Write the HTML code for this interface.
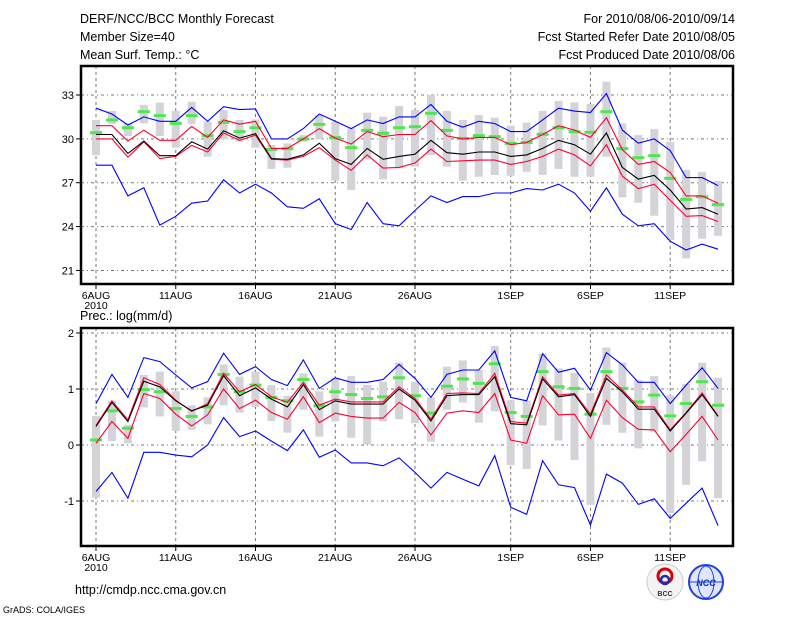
<!DOCTYPE html>
<html><head><meta charset="utf-8"><style>
html,body{margin:0;padding:0;background:#fff;}
svg{display:block;font-family:"Liberation Sans",sans-serif;}
</style></head><body>
<svg id="chart" width="800" height="618" viewBox="0 0 800 618" xmlns="http://www.w3.org/2000/svg">
<g font-size="12.5" fill="#000">
<text x="80" y="23">DERF/NCC/BCC Monthly Forecast</text>
<text x="80" y="41">Member Size=40</text>
<text x="80" y="59">Mean Surf. Temp.: °C</text>
<text x="735" y="23" text-anchor="end">For 2010/08/06-2010/09/14</text>
<text x="735" y="41" text-anchor="end">Fcst Started Refer Date 2010/08/05</text>
<text x="735" y="59" text-anchor="end">Fcst Produced Date 2010/08/06</text>
</g>
<text x="80" y="320" font-size="12.5">Prec.: log(mm/d)</text>
<text x="75" y="594" font-size="12.5">http://cmdp.ncc.cma.gov.cn</text>
<text x="3" y="613" font-size="9">GrADS: COLA/IGES</text>
<g>
<circle cx="665" cy="582" r="18" fill="#f4f4f4" stroke="#ccc"/>
<circle cx="665" cy="576" r="7" fill="none" stroke="#d00" stroke-width="3"/>
<circle cx="665" cy="580" r="4" fill="none" stroke="#1030c0" stroke-width="2.5"/>
<text x="665" y="596" font-size="7" text-anchor="middle" font-weight="bold" fill="#333">BCC</text>
</g>
<g>
<circle cx="706" cy="582" r="17" fill="#dfe6ff" stroke="#2040e0" stroke-width="2"/>
<ellipse cx="706" cy="582" rx="8" ry="16" fill="none" stroke="#2040e0"/>
<line x1="690" y1="582" x2="722" y2="582" stroke="#2040e0"/>
<text x="706" y="586" font-size="9" text-anchor="middle" font-weight="bold" font-style="italic" fill="#1030c0">NCC</text>
</g>
<g id="plots"></g>
</svg>
<script>
// categories: 40 days from 6 Aug 2010
const dayLabels = ["6AUG","11AUG","16AUG","21AUG","26AUG","1SEP","6SEP","11SEP"];
const dayLabelIdx = [0,5,10,15,20,26,31,36];
const tempTicks = [21,24,27,30,33];
const precTicks = [-1,0,1,2];

const tBlueUp = [32.1,31.7,30.95,31.5,31.2,31.2,32.15,31.2,32.2,32.0,32.05,30.0,30.0,30.7,31.7,31.2,30.7,31.3,31.05,31.5,31.5,32.35,31.2,30.8,31.2,31.05,30.5,30.5,31.3,32.1,31.9,31.8,33.1,30.6,29.7,30.0,29.2,27.35,27.35,26.8];
const tBlueLo = [28.2,28.2,26.1,26.65,24.1,24.7,25.6,25.75,27.2,26.3,26.9,26.3,25.35,25.25,25.9,24.2,23.8,25.65,24.2,24.05,25.1,26.1,25.65,26.05,26.05,26.3,26.3,26.6,26.5,26.9,26.3,25.05,26.65,24.85,24.05,24.2,23.0,22.4,22.8,22.45];
const tRedUp = [30.9,30.9,29.85,30.6,29.9,29.9,30.85,30.1,31.3,31.0,31.2,29.35,29.35,30.0,30.7,30.05,29.65,30.5,30.15,30.3,30.3,31.25,30.2,30.0,30.1,30.1,29.6,29.75,30.3,30.9,30.6,30.1,31.45,29.25,28.25,28.45,27.7,26.1,26.1,25.6];
const tMean = [30.3,30.3,29.0,29.85,28.85,28.85,29.8,29.3,30.55,30.05,30.35,28.65,28.6,28.9,29.7,28.65,28.25,29.35,28.6,28.8,28.95,29.9,29.05,28.95,29.1,29.1,28.8,28.9,29.35,29.9,29.6,28.95,30.4,28.05,27.25,27.5,26.5,25.2,25.3,24.85];
const tRedLo = [30.0,30.0,28.75,29.8,28.65,28.8,29.55,29.1,30.4,29.9,30.25,28.6,28.55,28.8,29.4,28.55,27.85,28.9,28.0,28.05,28.35,29.3,28.45,28.5,28.55,28.55,28.25,28.45,28.8,29.3,28.9,28.15,29.6,27.45,26.6,26.9,25.8,24.7,24.75,24.35];
const tMax = [31.29,31.91,31.06,32.32,32.48,31.91,32.54,31.18,31.97,31.29,31.33,29.58,29.69,30.26,31.63,31.18,30.72,31.79,31.52,32.25,31.97,33.0,31.91,31.29,31.63,31.45,30.9,31.11,31.91,32.59,32.5,32.38,33.91,31.06,30.26,30.67,29.81,27.87,27.74,27.12];
const tMin = [28.89,31.02,30.19,31.06,30.19,29.4,31.02,28.78,29.97,29.81,29.4,27.94,28.03,29.81,29.97,27.14,26.5,28.6,27.23,27.98,28.1,28.89,28.1,27.14,27.41,27.53,27.48,27.75,27.53,27.94,27.41,27.41,28.78,26.0,25.63,24.74,23.08,21.82,23.17,23.37];
const tMed = [30.42,31.29,30.76,31.86,31.59,31.06,31.59,30.22,31.13,30.49,30.76,29.28,29.33,29.99,30.99,30.08,29.4,30.58,30.38,30.76,30.83,31.75,30.58,30.03,30.22,30.15,29.69,29.76,30.31,30.76,30.49,30.45,31.86,29.33,28.71,28.85,27.3,25.86,26.04,25.5];

const pBlueUp = [0.74,1.26,0.85,1.56,1.49,1.25,1.02,1.13,1.64,1.26,1.40,1.17,1.06,1.52,1.01,1.20,1.12,1.12,1.17,1.44,1.19,0.85,1.26,1.34,1.34,1.68,0.85,0.79,1.63,1.30,1.37,0.98,1.65,1.43,1.12,1.12,0.74,1.07,1.38,1.01];
const pBlueLo = [-0.83,-0.49,-0.95,-0.13,-0.13,-0.18,-0.21,0.0,0.49,0.15,0.25,0.07,-0.10,0.27,-0.22,-0.09,-0.32,-0.32,-0.37,-0.23,-0.49,-0.77,-0.49,-0.61,-0.73,-0.19,-1.11,-1.24,-0.28,-0.71,-0.76,-1.43,-0.52,-0.68,-1.06,-0.96,-1.31,-1.04,-0.77,-1.44];
const pRedUp = [0.35,0.79,0.45,1.20,1.08,0.80,0.60,0.74,1.28,0.95,1.08,0.86,0.76,1.12,0.71,0.82,0.77,0.77,0.77,1.04,0.83,0.46,0.92,0.93,0.92,1.28,0.42,0.39,1.22,0.89,0.92,0.55,1.25,0.98,0.68,0.68,0.27,0.58,0.93,0.52];
const pMean = [0.33,0.76,0.42,1.14,1.04,0.79,0.61,0.71,1.24,0.88,1.02,0.82,0.68,1.08,0.63,0.79,0.73,0.73,0.73,1.0,0.80,0.43,0.88,0.90,0.90,1.22,0.38,0.36,1.18,0.86,0.90,0.51,1.19,0.95,0.64,0.64,0.25,0.57,0.90,0.51];
const pRedLo = [0.03,0.42,0.12,0.92,0.83,0.55,0.34,0.54,1.0,0.65,0.80,0.58,0.46,0.86,0.40,0.57,0.51,0.48,0.48,0.76,0.58,0.18,0.57,0.61,0.58,0.92,0.09,0.03,0.88,0.54,0.55,0.12,0.80,0.49,0.28,0.27,-0.12,0.19,0.51,0.09];
const pMax = [0.52,0.79,0.36,1.25,1.31,0.96,0.71,0.85,1.44,1.22,1.31,1.07,0.88,1.28,0.96,1.20,1.23,1.07,1.13,1.47,1.13,0.85,1.40,1.51,1.34,1.77,0.80,0.79,1.63,1.37,1.29,0.93,1.74,1.47,1.16,1.23,0.89,1.09,1.47,1.20];
const pMin = [-0.94,0.07,0.03,0.67,0.51,0.25,0.27,0.37,0.71,0.58,0.68,0.43,0.22,0.63,0.15,0.42,0.13,0.01,0.42,0.46,0.39,0.06,0.63,0.76,0.40,0.60,-0.36,-0.43,0.35,0.08,-0.27,-1.07,0.36,0.22,-0.06,0.24,-1.22,-0.71,-0.29,-0.95];
const pMed = [0.09,0.61,0.30,0.99,0.95,0.65,0.51,0.68,1.26,0.95,1.07,0.85,0.79,1.17,0.70,0.95,0.90,0.83,0.86,1.20,0.88,0.57,1.05,1.18,1.10,1.45,0.58,0.51,1.31,1.04,1.01,0.55,1.31,1.01,0.77,0.89,0.52,0.74,1.13,0.71];

const NS="http://www.w3.org/2000/svg";
const root=document.getElementById('plots');
const x0=81,x1=733,xDay0=96,dayW=15.95;
function xScale(i){return xDay0+i*dayW;}
function mk(tag,attrs,parent){const e=document.createElementNS(NS,tag);for(const k in attrs)e.setAttribute(k,attrs[k]);(parent||root).appendChild(e);return e;}

function panel(name,top,bottom,vTop,yTop,pxPerUnit,ticks,series,maxA,minA,medA,labelBase){
  const g=mk('g',{});
  
  
  const ys=v=>yTop+(vTop-v)*pxPerUnit;
  // grid
  ticks.forEach(t=>{
    const l=mk('line',{x1:x0,x2:x1,y1:ys(t),y2:ys(t),stroke:'#777','stroke-width':1,'stroke-dasharray':'3,3,1,3'},g);
    
    
    const tk=mk('line',{x1:x0-5,x2:x0,y1:ys(t),y2:ys(t),stroke:'#000'},g);
    
    
    const tx=mk('text',{x:x0-7,y:ys(t)+4,'text-anchor':'end','font-size':11},g);
    
    
    tx.textContent=t;
  });
  dayLabelIdx.forEach((d,k)=>{
    const x=xScale(d);
    const l=mk('line',{x1:x,x2:x,y1:top,y2:bottom,stroke:'#777','stroke-width':1,'stroke-dasharray':'3,3'},g);
    
    
    const tk=mk('line',{x1:x,x2:x,y1:bottom,y2:bottom+5,stroke:'#000'},g);
    
    
    const tx=mk('text',{x:x,y:labelBase,'text-anchor':'middle','font-size':10.5},g);
    
    
    tx.textContent=dayLabels[k];
  });
  const yr=mk('text',{x:xScale(0),y:labelBase+10,'text-anchor':'middle','font-size':10.5},g);
  
  
  yr.textContent='2010';
  // boxes
  maxA.forEach((mx,i)=>{
    const x=xScale(i);
    const r=mk('rect',{x:x-4,y:ys(mx),width:8,height:ys(minA[i])-ys(mx),fill:'#d3d3d8'},g);
    
    
  });
  medA.forEach((m,i)=>{
    const x=xScale(i);
    const r=mk('rect',{x:x-6,y:ys(m)-1.5,width:12,height:3,fill:'#4de84d'},g);
    
    
  });
  series.forEach(s=>{
    const p=mk('polyline',{points:s.data.map((v,i)=>xScale(i)+','+ys(v).toFixed(1)).join(' '),fill:'none',stroke:s.color,'stroke-width':1.1},g);
    
    
  });
  const fr=mk('rect',{x:x0,y:top,width:x1-x0,height:bottom-top,fill:'none',stroke:'#000','stroke-width':2.5},g);
  
  
}
panel('temperature-panel',66,284,33,95,14.62,tempTicks,[
  {name:'temp-upper-blue',data:tBlueUp,color:'#0000ff'},
  {name:'temp-lower-blue',data:tBlueLo,color:'#0000ff'},
  {name:'temp-upper-red',data:tRedUp,color:'#ff0030'},
  {name:'temp-lower-red',data:tRedLo,color:'#ff0030'},
  {name:'temp-mean-line',data:tMean,color:'#000'}],tMax,tMin,tMed,299);
panel('precip-panel',328,546,2,333,56,precTicks,[
  {name:'prec-upper-blue',data:pBlueUp,color:'#0000ff'},
  {name:'prec-lower-blue',data:pBlueLo,color:'#0000ff'},
  {name:'prec-upper-red',data:pRedUp,color:'#ff0030'},
  {name:'prec-lower-red',data:pRedLo,color:'#ff0030'},
  {name:'prec-mean-line',data:pMean,color:'#000'}],pMax,pMin,pMed,561);
</script>
</body></html>
